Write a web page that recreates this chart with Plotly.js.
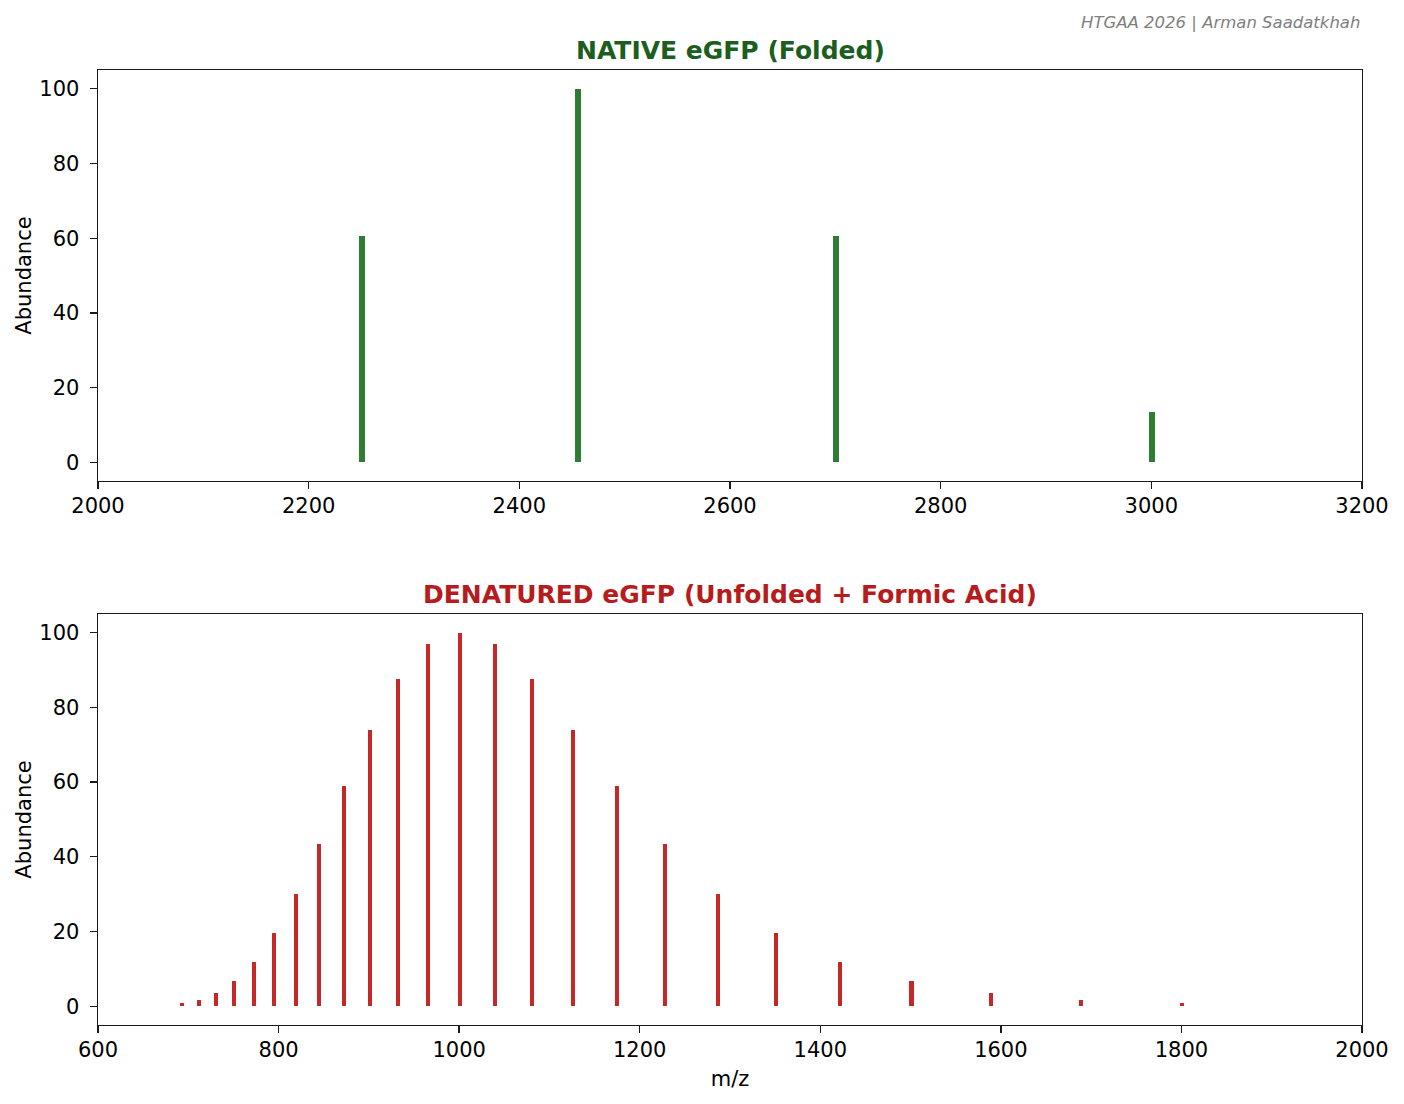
<!DOCTYPE html>
<html>
<head>
<meta charset="utf-8">
<script src="https://cdn.plot.ly/plotly-3.0.1.min.js"></script>
<style>html,body{margin:0;padding:0;background:#fff;}#chart{width:1404px;height:1104px;}</style>
</head>
<body>
<div id="chart"></div>
<script>
// Native (folded) charge-state peaks
const nativeMz = [2251, 2455.5, 2701, 3001];
const nativeAbundance = [60.7, 100, 60.7, 13.5];

// Denatured (unfolded + formic acid) charge-state peaks
const denaturedMz = [693.3, 711.5, 730.7, 751, 772.4, 795, 819, 844.8, 872, 901, 932, 965.3, 1001,
                     1039.5, 1081, 1126, 1174.9, 1228, 1286.7, 1351, 1422, 1501, 1589, 1688.5, 1801];
const denaturedAbundance = [0.8, 1.7, 3.5, 6.7, 11.9, 19.6, 30.1, 43.5, 58.9, 74, 87.5, 96.9, 100,
                            96.9, 87.5, 74, 58.9, 43.5, 30.1, 19.6, 11.9, 6.7, 3.5, 1.7, 0.8];

const topTitle = 'NATIVE eGFP (Folded)';
const bottomTitle = 'DENATURED eGFP (Unfolded + Formic Acid)';
const credit = 'HTGAA 2026 | Arman Saadatkhah';

const FONT = 'DejaVu Sans, sans-serif';
const AX = '#1a1a1a';
const FS = 21;

const traces = [
  {type: 'bar', x: nativeMz, y: nativeAbundance, width: nativeMz.map(() => 5.5),
   marker: {color: '#2e7d32', line: {width: 0}}, xaxis: 'x', yaxis: 'y', hoverinfo: 'x+y'},
  {type: 'bar', x: denaturedMz, y: denaturedAbundance, width: denaturedMz.map(() => 4.5),
   marker: {color: '#c62828', line: {width: 0}}, xaxis: 'x2', yaxis: 'y2', hoverinfo: 'x+y'}
];

function xax(range, dtick, anchor) {
  return {range: range, dtick: dtick, tick0: range[0], anchor: anchor, showgrid: false, zeroline: false,
          showline: true, linecolor: AX, linewidth: 1.4, mirror: true,
          ticks: 'outside', ticklen: 7, tickwidth: 1.3, tickcolor: AX, ticklabelstandoff: -2,
          tickfont: {family: FONT, size: FS, color: '#000'}};
}
function yax(domain, anchor) {
  return {domain: domain, range: [-5, 105], dtick: 20, tick0: 0, anchor: anchor, showgrid: false, zeroline: false,
          showline: true, linecolor: AX, linewidth: 1.4, mirror: true,
          ticks: 'outside', ticklen: 7, tickwidth: 1.3, tickcolor: AX, ticklabelstandoff: 6,
          tickfont: {family: FONT, size: FS, color: '#000'},
          title: {text: 'Abundance', font: {family: FONT, size: FS, color: '#000'}, standoff: 2}};
}

const xa1 = xax([2000, 3200], 200, 'y');
const xa2 = xax([600, 2000], 200, 'y2');
xa2.title = {text: 'm/z', font: {family: FONT, size: FS, color: '#000'}, standoff: 10};

const layout = {
  width: 1404, height: 1104,
  margin: {l: 98, r: 42, t: 70, b: 79},
  paper_bgcolor: '#fff', plot_bgcolor: '#fff',
  showlegend: false,
  bargap: 0,
  xaxis: xa1,
  yaxis: yax([0.5696, 1], 'x'),
  xaxis2: xa2,
  yaxis2: yax([0, 0.4304], 'x2'),
  annotations: [
    {text: '<b>' + topTitle + '</b>', xref: 'paper', yref: 'paper', x: 0.5, y: 1, yshift: 3,
     xanchor: 'center', yanchor: 'bottom', showarrow: false,
     font: {family: FONT, size: 25, color: '#1b5e20'}},
    {text: '<b>' + bottomTitle + '</b>', xref: 'paper', yref: 'paper', x: 0.5, y: 0.4304, yshift: 3,
     xanchor: 'center', yanchor: 'bottom', showarrow: false,
     font: {family: FONT, size: 25, color: '#b71c1c'}},
    {text: '<i>' + credit + '</i>', xref: 'paper', yref: 'paper', x: 1, y: 1, yshift: 36,
     xanchor: 'right', yanchor: 'bottom', showarrow: false,
     font: {family: FONT, size: 16.5, color: '#808080'}}
  ]
};

Plotly.newPlot('chart', traces, layout, {displayModeBar: false, staticPlot: true});
</script>
</body>
</html>
